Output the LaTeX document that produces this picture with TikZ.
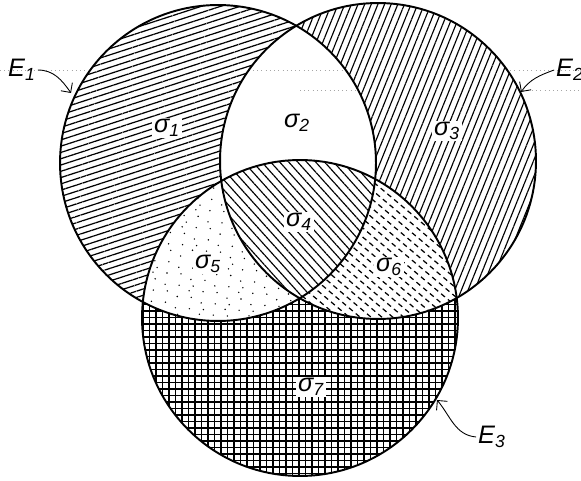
\documentclass[tikz,border=0pt]{standalone}
\usepackage{fontspec}
\setsansfont{Liberation Sans}
\usetikzlibrary{patterns.meta, arrows.meta}

\newcommand{\vennr}{3.16cm}
\newcommand{\fullarea}{(0,0) rectangle (581,480)}

\begin{document}
\begin{tikzpicture}[x=0.02cm, y=0.02cm,
    rim/.style={line width=1.1pt},
    sigmalabel/.style={fill=white, inner sep=1pt, font=\Large\sffamily\itshape},
    setlabel/.style={font=\Large\sffamily\itshape, inner sep=1pt},
    pointer/.style={-{Straight Barb[length=4pt]}, line width=0.5pt},
    scanline/.style={gray!70, dotted, line width=0.4pt}]
    \useasboundingbox \fullarea;
    % circle centres
    \coordinate (A) at (218,317);
    \coordinate (B) at (378,319);
    \coordinate (C) at (300,162);
    % faint ruling lines of the scan
    \draw[scanline] (0,410) -- (581,410);
    \draw[scanline] (300,390) -- (581,390);
    % sigma_1: E1 only
    \begin{scope}[even odd rule]
        \clip (A) circle[radius=\vennr];
        \clip \fullarea (B) circle[radius=\vennr];
        \clip \fullarea (C) circle[radius=\vennr];
        \fill[white] \fullarea;
        \fill[pattern={Lines[angle=18, distance=3.4pt, line width=0.7pt]}] \fullarea;
    \end{scope}
    % sigma_3: E2 only
    \begin{scope}[even odd rule]
        \clip (B) circle[radius=\vennr];
        \clip \fullarea (A) circle[radius=\vennr];
        \clip \fullarea (C) circle[radius=\vennr];
        \fill[white] \fullarea;
        \fill[pattern={Lines[angle=68, distance=3.5pt, line width=0.65pt]}] \fullarea;
    \end{scope}
    % sigma_4: all three
    \begin{scope}
        \clip (A) circle[radius=\vennr];
        \clip (B) circle[radius=\vennr];
        \clip (C) circle[radius=\vennr];
        \fill[pattern={Lines[angle=-48, distance=3.8pt, line width=0.65pt]}] \fullarea;
    \end{scope}
    % sigma_5: E1 and E3, dotted
    \begin{scope}[even odd rule]
        \clip (A) circle[radius=\vennr];
        \clip (C) circle[radius=\vennr];
        \clip \fullarea (B) circle[radius=\vennr];
        \foreach \i in {1,...,230}
            \fill ({140+175*mod(\i*0.7548777,1)},{155+145*mod(\i*0.5698403,1)})
                circle[radius=0.45pt];
    \end{scope}
    % sigma_6: E2 and E3, dashes
    \begin{scope}[even odd rule]
        \clip (B) circle[radius=\vennr];
        \clip (C) circle[radius=\vennr];
        \clip \fullarea (A) circle[radius=\vennr];
        \begin{scope}[rotate around={50:(390,220)}]
            \foreach \k in {-30,...,30}
                \draw[line width=0.7pt, dash pattern=on 2.8pt off 2.2pt]
                    (390+\k*7,40) -- (390+\k*7,400);
        \end{scope}
    \end{scope}
    % sigma_7: E3 only, cross-hatched
    \begin{scope}[even odd rule]
        \clip (C) circle[radius=\vennr];
        \clip \fullarea (A) circle[radius=\vennr];
        \clip \fullarea (B) circle[radius=\vennr];
        \fill[white] \fullarea;
        \draw[line width=0.85pt, step=0.13cm] (0,0) grid (581,480);
    \end{scope}
    % outlines
    \draw[rim] (A) circle[radius=\vennr];
    \draw[rim] (B) circle[radius=\vennr];
    \draw[rim] (C) circle[radius=\vennr];
    % region labels
    \node[sigmalabel] (s1) at (167,352) {σ\textsubscript{1}};
    \node[sigmalabel, fill=none] (s2) at (297,357) {σ\textsubscript{2}};
    \node[sigmalabel] (s3) at (447,349) {σ\textsubscript{3}};
    \node[sigmalabel] (s4) at (299,258) {σ\textsubscript{4}};
    \node[sigmalabel] (s5) at (208,216) {σ\textsubscript{5}};
    \node[sigmalabel] (s6) at (389,213) {σ\textsubscript{6}};
    \node[sigmalabel] (s7) at (311,93) {σ\textsubscript{7}};
    % set labels with pointers
    \node[setlabel] (e1) at (22,410) {E\textsubscript{1}};
    \node[setlabel] (e2) at (570,410) {E\textsubscript{2}};
    \node[setlabel] (e3) at (492,43) {E\textsubscript{3}};
    \coordinate (e1tip) at (71,387);
    \coordinate (e2tip) at (521,388);
    \coordinate (e3tip) at (437,80);
    \draw[pointer] (e1.east) to[out=0, in=125] (e1tip);
    \draw[pointer] (e2.west) to[out=200, in=55] (e2tip);
    \draw[pointer] (e3.west) to[out=175, in=-50] (e3tip);
\end{tikzpicture}
\end{document}
